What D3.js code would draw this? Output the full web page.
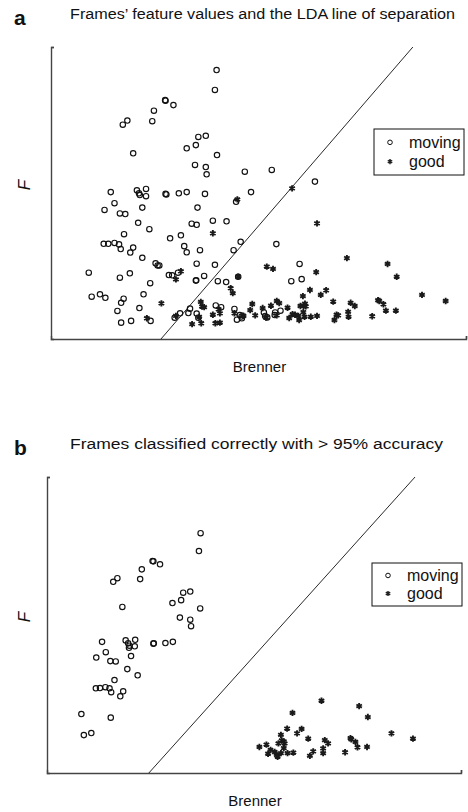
<!DOCTYPE html>
<html>
<head>
<meta charset="utf-8">
<script src="https://cdn.jsdelivr.net/npm/d3@7"></script>
<style>
  body { margin: 0; background: #fff; }
  svg text { font-family: "Liberation Sans", Arial, Helvetica, sans-serif; fill: #111; }
</style>
</head>
<body>
<script>
/* ---- data (unitless, 0..100 on both axes) ---- */
var movingA = [[39.9,92.1],[39.5,85.3],[27.6,81.6],[27.5,81.8],[29.5,80.1],[24.8,78.2],[18.4,74.8],[17.3,73.4],[24.4,74.6],
  [37.3,69.6],[35.5,69.2],[34.9,66.4],[32.7,65.3],[19.8,63.6],[40.0,63.0],[34.7,59.6],[37.3,58.9],[37.5,56.4],[46.7,57.3],
  [53.2,57.9],[63.6,53.9],[48.2,50.3],[14.4,50.3],[20.7,50.9],[22.9,51.4],[21.2,49.9],[21.4,49.3],[22.9,48.9],[27.6,49.7],
  [27.8,49.5],[30.8,49.9],[32.7,50.3],[37.1,49.7],[44.6,47.0],[15.3,46.5],[22.0,45.0],[35.3,45.0],[12.9,44.2],[16.6,43.0],
  [17.9,42.8],[21.0,39.8],[33.9,39.5],[35.1,39.1],[39.0,40.5],[42.3,40.3],[23.7,37.6],[17.6,35.9],[31.3,35.5],[28.7,34.5],
  [12.7,32.6],[13.8,32.6],[15.3,32.9],[16.4,32.4],[16.8,30.8],[19.8,31.3],[19.1,29.6],[32.1,31.8],[32.7,29.7],[35.9,30.4],
  [45.7,33.3],[44.0,30.4],[22.0,27.8],[25.2,25.9],[25.7,25.2],[26.1,25.2],[35.1,25.8],[39.5,25.4],[9.1,22.7],[19.0,22.5],
  [16.6,21.0],[28.4,21.9],[29.2,21.8],[30.6,22.7],[23.9,19.1],[34.9,20.0],[35.0,20.1],[36.9,21.6],[40.2,19.8],[42.2,19.5],
  [45.1,21.3],[9.8,14.5],[11.8,15.3],[13.1,14.1],[17.5,13.8],[16.9,12.4],[22.3,15.3],[16.0,9.6],[21.3,10.6],[16.9,5.6],
  [19.3,6.2],[24.0,6.2],[29.8,7.3],[31.1,8.8],[33.1,8.9],[33.5,10.4],[35.1,8.7],[35.5,7.3],[39.7,11.5],[41.0,10.9],
  [44.2,10.3],[45.5,8.2],[45.9,7.7],[44.8,6.6],[46.0,7.1],[54.3,32.5],[59.9,25.7],[57.9,19.8],[60.4,20.5],[51.3,9.1],
  [51.6,7.9],[52.1,7.4],[53.9,8.2],[54.0,9.1],[55.3,9.7]];

var goodA = [[44.9,47.8],[58.1,51.6],[39.0,36.2],[64.1,39.6],[45.1,21.3],[31.3,23.2],[30.1,20.4],[71.3,27.7],[81.1,25.7],
  [83.3,21.3],[52.0,24.8],[53.5,24.0],[63.9,22.9],[43.3,17.4],[43.8,15.7],[26.6,12.2],[23.1,7.1],[30.1,7.9],[36.4,11.1],
  [36.1,12.7],[36.9,10.9],[35.7,7.6],[34.0,5.1],[36.2,5.4],[39.0,8.3],[39.6,5.4],[40.7,5.6],[40.4,10.2],[40.7,8.8],
  [44.2,8.8],[46.2,8.0],[48.0,9.9],[48.5,12.0],[49.2,8.1],[62.4,16.8],[66.3,16.7],[65.0,15.1],[60.7,14.7],[89.4,15.1],
  [95.1,13.0],[68.0,12.8],[72.2,12.4],[73.2,11.3],[78.8,13.3],[79.1,13.0],[80.1,11.9],[80.7,9.7],[83.1,9.7],[71.6,9.3],
  [71.7,7.6],[77.4,7.8],[68.8,8.3],[69.2,8.1],[68.3,6.5],[64.1,7.9],[62.6,7.6],[61.2,12.1],[61.4,11.2],[60.9,11.4],
  [60.1,11.3],[60.8,9.2],[61.1,7.6],[59.8,6.5],[59.6,7.9],[58.8,8.3],[58.2,8.5],[57.4,7.2],[57.0,10.7],[55.0,12.3],
  [54.4,13.0],[53.0,11.4],[51.0,10.6],[51.8,7.3],[54.4,8.1],[46.4,7.9]];

var movingB = [[37.1,81.0],[36.7,75.0],[25.5,71.6],[25.7,71.5],[27.3,70.5],[22.9,68.8],[17.0,65.8],[16.0,64.6],[22.5,65.5],
  [34.6,61.3],[32.9,60.9],[32.4,58.4],[30.3,57.4],[18.2,56.1],[37.0,55.6],[32.1,52.5],[34.6,51.8],[34.8,49.6],[13.3,44.3],
  [19.0,44.8],[19.6,43.8],[19.9,43.0],[19.8,42.3],[21.3,45.0],[21.2,42.8],[25.7,43.7],[25.8,43.8],[28.6,43.9],[30.4,44.3],
  [14.2,40.8],[11.9,39.0],[15.3,37.8],[16.6,37.7],[20.3,39.5],[19.4,35.1],[21.9,33.0],[16.3,31.4],[11.8,28.6],[12.8,28.7],
  [14.1,29.0],[15.1,28.6],[15.5,27.3],[18.4,27.6],[17.7,25.9],[8.3,19.9],[15.4,18.7],[8.9,12.8],[10.7,13.5]];

var goodB = [[66.3,24.4],[75.4,22.6],[77.5,18.9],[59.3,20.3],[58.0,15.0],[61.5,14.9],[60.4,13.4],[56.5,12.9],[63.1,11.6],
  [67.1,11.1],[67.9,10.0],[73.3,11.8],[73.5,11.4],[74.5,10.5],[83.2,13.4],[88.4,11.6],[56.7,11.0],[57.2,10.7],[55.9,10.0],
  [57.4,10.0],[57.2,8.4],[51.3,8.8],[53.0,9.6],[54.0,7.8],[53.4,6.5],[55.0,7.1],[55.5,6.1],[55.7,5.5],[56.5,6.7],
  [58.1,6.7],[59.5,6.9],[66.7,8.3],[66.7,6.7],[64.3,7.3],[63.5,5.8],[75.0,8.7],[77.3,8.8],[72.0,7.0]];

// LDA separation lines (end points, same units)
var ldaA = [[26.5, 0], [87.2, 100]];
var ldaB = [[24.6, 0], [88.9, 100]];

var panelLetters = ["a", "b"];
var panelTitles = ["Frames\u2019 feature values and the LDA line of separation",
                   "Frames classified correctly with > 95% accuracy"];
var legendLabels = ["moving", "good"];
var xLabel = "Brenner";
var yLabel = "F";

var svg = d3.select("body").append("svg")
  .attr("width", 468)
  .attr("height", 812);

var panels = [
  { letter: panelLetters[0], title: panelTitles[0], moving: movingA, good: goodA, lda: ldaA,
    left: 51, right: 466, top: 47, bottom: 339, titleY: 19, titleX: 70, titleW: 385,
    legX: 374, legY: 129, legW: 90, legH: 46 },
  { letter: panelLetters[1], title: panelTitles[1], moving: movingB, good: goodB, lda: ldaB,
    left: 47, right: 461, top: 477, bottom: 773, titleY: 449, titleX: 70, titleW: 373,
    legX: 372, legY: 563, legW: 90, legH: 43 }
];

var star = d3.symbol().type(d3.symbolAsterisk).size(28);

panels.forEach(function(p) {
  var x = d3.scaleLinear().domain([0, 100]).range([p.left, p.right]);
  var y = d3.scaleLinear().domain([0, 100]).range([p.bottom, p.top]);
  var g = svg.append("g");

  // letter + title
  g.append("text").text(p.letter)
    .attr("x", 14).attr("y", p.titleY + 6)
    .attr("font-size", 21).attr("font-weight", "bold");
  g.append("text").text(p.title)
    .attr("x", p.titleX).attr("y", p.titleY)
    .attr("textLength", p.titleW)
    .attr("lengthAdjust", "spacingAndGlyphs")
    .attr("font-size", 15.5);

  // axes (box off, only end ticks)
  var xAxis = d3.axisBottom(x).tickValues([100]).tickSize(-3).tickFormat("");
  var yAxis = d3.axisLeft(y).tickValues([100]).tickSize(-3).tickFormat("");
  g.append("g").attr("transform", "translate(0," + p.bottom + ")").call(xAxis);
  g.append("g").attr("transform", "translate(" + p.left + ",0)").call(yAxis);
  g.selectAll(".domain, .tick line").attr("stroke", "#444").attr("stroke-width", 1.4);

  // LDA line
  g.append("line")
    .attr("x1", x(p.lda[0][0])).attr("y1", y(p.lda[0][1]))
    .attr("x2", x(p.lda[1][0])).attr("y2", y(p.lda[1][1]))
    .attr("stroke", "#111").attr("stroke-width", 0.9);

  // points
  g.selectAll("circle.mv")
    .data(p.moving)
    .enter()
    .append("circle")
    .attr("class", "mv")
    .attr("cx", function(d) { return x(d[0]); })
    .attr("cy", function(d) { return y(d[1]); })
    .attr("r", 2.7)
    .attr("fill", "none")
    .attr("stroke", "#111")
    .attr("stroke-width", 1.15);

  g.selectAll("path.gd")
    .data(p.good)
    .enter()
    .append("path")
    .attr("class", "gd")
    .attr("d", star)
    .attr("transform", function(d) { return "translate(" + x(d[0]) + "," + y(d[1]) + ")"; })
    .attr("fill", "none")
    .attr("stroke", "#1a1a1a")
    .attr("stroke-width", 1.9);

  // axis labels
  g.append("text").text(xLabel)
    .attr("x", (p.left + p.right) / 2 + 1).attr("y", p.bottom + 33)
    .attr("text-anchor", "middle").attr("font-size", 15);
  g.append("text").text(yLabel)
    .attr("transform", "translate(30," + ((p.top + p.bottom) / 2 - 8) + ") rotate(-90)")
    .attr("text-anchor", "middle")
    .attr("font-size", 17).attr("font-style", "italic");

  // legend
  var leg = g.append("g").attr("transform", "translate(" + p.legX + "," + p.legY + ")");
  leg.append("rect")
    .attr("width", p.legW).attr("height", p.legH)
    .attr("fill", "#fff").attr("stroke", "#111").attr("stroke-width", 1);
  leg.append("circle")
    .attr("cx", 16).attr("cy", p.legH * 0.29).attr("r", 2.3)
    .attr("fill", "none").attr("stroke", "#111").attr("stroke-width", 1);
  leg.append("path")
    .attr("d", d3.symbol().type(d3.symbolAsterisk).size(18))
    .attr("transform", "translate(16," + (p.legH * 0.71) + ")")
    .attr("stroke", "#222").attr("stroke-width", 1.5);
  leg.selectAll("text")
    .data(legendLabels)
    .enter()
    .append("text")
    .text(function(d) { return d; })
    .attr("x", 35)
    .attr("y", function(d, i) { return p.legH * (i === 0 ? 0.29 : 0.71) + 5.5; })
    .attr("font-size", 16);
});
</script>
</body>
</html>
